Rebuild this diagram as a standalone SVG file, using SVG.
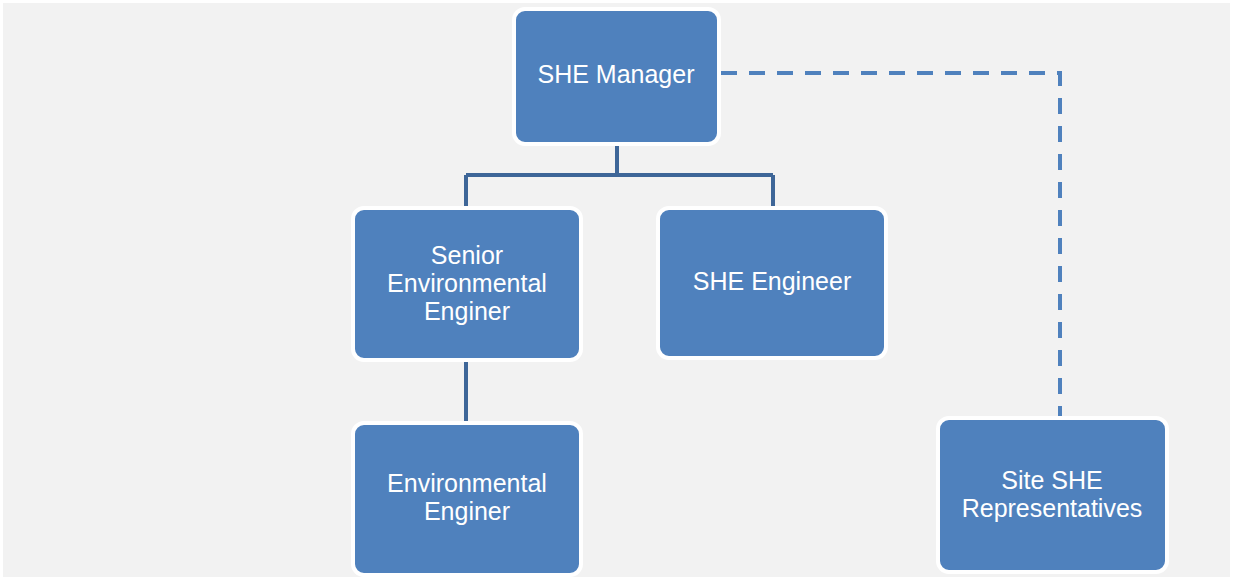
<svg xmlns="http://www.w3.org/2000/svg" width="1235" height="579" viewBox="0 0 1235 579">
  <style>
    .box { fill: #4f81bd; stroke: #ffffff; stroke-width: 4; }
    .label { font-family: "Liberation Sans", Arial, sans-serif; font-size: 25px; fill: #ffffff; text-anchor: middle; }
    .solid { fill: none; stroke: #3e6698; stroke-width: 4; }
    .dashed { fill: none; stroke: #4f81bd; stroke-width: 4; stroke-dasharray: 16 12; }
  </style>
  <rect x="0" y="0" width="1235" height="579" fill="#ffffff"/>
  <rect x="3" y="3" width="1227" height="574" fill="#f2f2f2"/>

  <g id="connectors">
    <path class="solid" d="M617 144 V175 M466 175 H773 M466 207 V175 M773 207 V175"/>
    <path class="solid" d="M466 360 V422"/>
    <path class="dashed" d="M721 73 H1060 V416"/>
  </g>

  <g id="she-manager">
    <rect class="box" x="514" y="9" width="205" height="135" rx="11"/>
    <text class="label" x="616" y="83">SHE Manager</text>
  </g>

  <g id="senior-environmental-enginer">
    <rect class="box" x="353" y="208" width="228" height="152" rx="11"/>
    <text class="label" x="467" y="264">Senior</text>
    <text class="label" x="467" y="292">Environmental</text>
    <text class="label" x="467" y="320">Enginer</text>
  </g>

  <g id="she-engineer">
    <rect class="box" x="658" y="208" width="228" height="150" rx="11"/>
    <text class="label" x="772" y="290">SHE Engineer</text>
  </g>

  <g id="environmental-enginer">
    <rect class="box" x="353" y="423" width="228" height="152" rx="11"/>
    <text class="label" x="467" y="492">Environmental</text>
    <text class="label" x="467" y="520">Enginer</text>
  </g>

  <g id="site-she-representatives">
    <rect class="box" x="938" y="418" width="229" height="154" rx="11"/>
    <text class="label" x="1052" y="489">Site SHE</text>
    <text class="label" x="1052" y="517">Representatives</text>
  </g>
</svg>
